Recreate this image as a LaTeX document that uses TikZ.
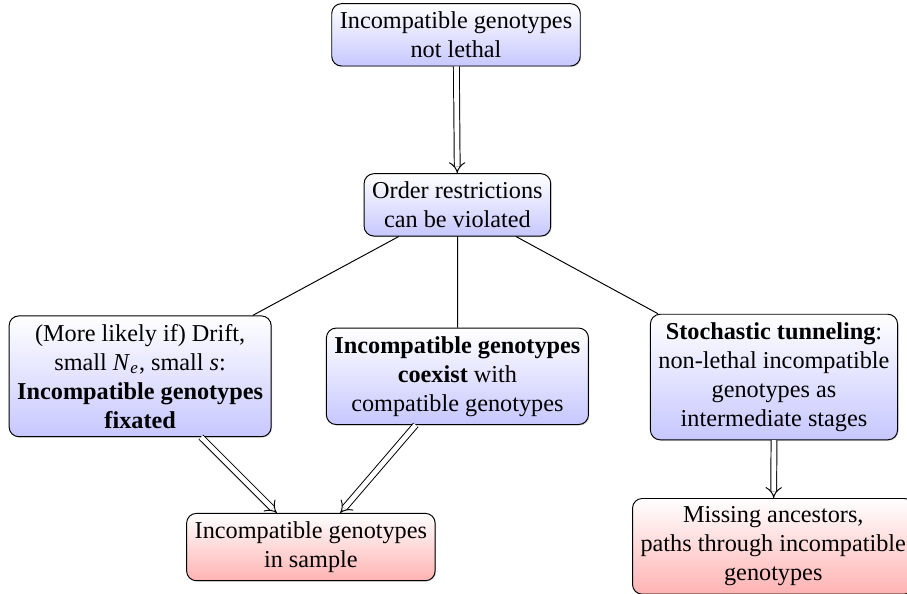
\documentclass[tikz,border=0pt]{standalone}
\usepackage{fontspec}
\setmainfont{Liberation Serif}
\usetikzlibrary{arrows.meta,shadows}

\tikzset{
    box/.style={draw, rounded corners=4pt, align=center,
        drop shadow={shadow xshift=0.4pt, shadow yshift=-0.4pt, opacity=0.35}},
    bluebox/.style={box, top color=white, bottom color=blue!22},
    redbox/.style={box, top color=white, bottom color=red!30},
    dbl/.style={double, double distance=2pt, -{Implies}},
}

\begin{document}
\begin{tikzpicture}[scale=1.031]
    \useasboundingbox (0, 0) rectangle (12.75, 8.35);
    \node[bluebox] (notlethal) at (6.41, 7.86) {Incompatible genotypes\\ not lethal};
    \node[bluebox] (violated) at (6.43, 5.47) {Order restrictions\\ can be violated};
    \node[bluebox] (fixated) at (1.97, 3.06) {(More likely if) Drift,\\ small \textit{N}\textsubscript{\textit{e}}, small \textit{s}:\\ \textbf{Incompatible genotypes}\\ \textbf{fixated}};
    \node[bluebox] (coexist) at (6.43, 3.06) {\textbf{Incompatible genotypes}\\ \textbf{coexist} with\\ compatible genotypes};
    \node[bluebox] (tunnel) at (10.88, 3.05) {\textbf{Stochastic tunneling}:\\ non-lethal incompatible\\ genotypes as\\ intermediate stages};
    \node[redbox] (sample) at (4.37, 0.66) {Incompatible genotypes\\ in sample};
    \node[redbox] (missing) at (10.87, 0.67) {Missing ancestors,\\ paths through incompatible\\ genotypes};
    \draw[dbl] (notlethal) -- (violated);
    \draw (violated) -- (fixated);
    \draw (violated) -- (coexist);
    \draw (violated) -- (tunnel);
    \draw[dbl] (fixated) -- (sample);
    \draw[dbl] (coexist) -- (sample);
    \draw[dbl] (tunnel) -- (missing);
\end{tikzpicture}
\end{document}
